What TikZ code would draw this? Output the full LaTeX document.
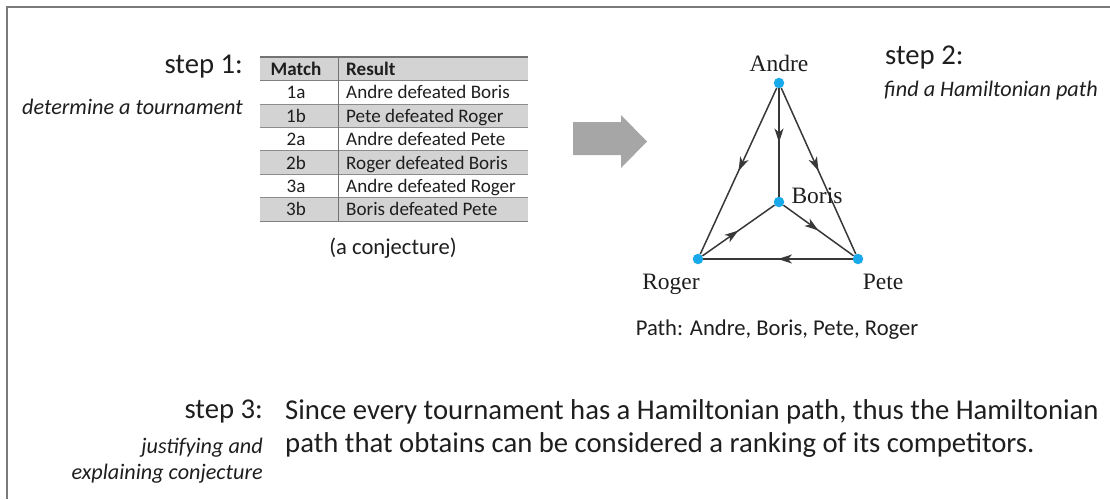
\documentclass[tikz,border=0pt]{standalone}
\usepackage{fontspec}
\setmainfont{Carlito}
\newfontfamily\timesfont{Liberation Serif}
\usetikzlibrary{arrows.meta,decorations.markings}
\definecolor{dotblue}{HTML}{17A9EA}
\definecolor{rowgray}{HTML}{D3D3D3}
\definecolor{bigarrow}{HTML}{A6A6A6}
\definecolor{framegray}{HTML}{7A7A7A}
\definecolor{txt}{HTML}{1E1E1E}
\begin{document}
\begin{tikzpicture}[x=1pt,y=-1pt,
  steplbl/.style={font=\fontsize{28.7}{34}\selectfont, inner sep=0, text=txt},
  sublbl/.style={font=\fontsize{22.2}{26}\selectfont\itshape, inner sep=0, text=txt},
  cell/.style={font=\fontsize{19.1}{22}\selectfont, inner sep=0, text=txt},
  hcell/.style={cell, font=\fontsize{19.1}{22}\selectfont\bfseries},
  capt/.style={font=\fontsize{22.6}{26}\selectfont, inner sep=0, text=txt},
  body/.style={font=\fontsize{28.7}{34}\selectfont, inner sep=0, text=txt},
  vtx/.style={circle, fill=dotblue, minimum size=10.5pt, inner sep=0},
  vname/.style={font=\timesfont\fontsize{23.5}{28}\selectfont, inner sep=0, anchor=base, text=txt},
  tedge/.style={draw=black!78, line width=1.5pt, postaction=decorate,
    decoration={markings, mark=at position 0.5 with {\arrow{Stealth[length=14pt,width=9pt,inset=4pt]}}}}
]
\useasboundingbox (0,0) rectangle (1110,499);
% frame (top and left edges visible)
\draw[framegray, line width=1.6pt] (7,499) -- (7,7) -- (1110,7);

% ---------- step 1 ----------
\node[steplbl, anchor=base east] (s1) at (243,73) {step 1:};
\node[sublbl, anchor=base east] (s1t) at (243,114) {determine a tournament};

% table
\fill[rowgray] (260,57) rectangle (528,80.7);
\foreach \r in {1,3,5} {
  \fill[rowgray] (260,{80.7+\r*23.4}) rectangle (528,{80.7+(\r+1)*23.4});
}
\foreach \r in {1,...,5} {
  \draw[black!45, line width=1pt] (260,{80.7+\r*23.4}) -- (528,{80.7+\r*23.4});
}
\draw[black!55, line width=2pt] (260,57) -- (528,57);
\draw[black!50, line width=1.2pt] (260,80.7) -- (528,80.7);
\draw[black!50, line width=1.2pt] (260,221.1) -- (528,221.1);
\draw[black!55, line width=1pt] (338,57) -- (338,221.1);

\node[hcell, anchor=base] (hm) at (296,75) {Match};
\node[hcell, anchor=base west] (hr) at (346,75) {Result};
\foreach \i/\m/\res [count=\k from 0] in {
  1/1a/Andre defeated Boris,
  2/1b/Pete defeated Roger,
  3/2a/Andre defeated Pete,
  4/2b/Roger defeated Boris,
  5/3a/Andre defeated Roger,
  6/3b/Boris defeated Pete} {
  \node[cell, anchor=base] (m\i) at (296,{80.7+\k*23.4+18.2}) {\m};
  \node[cell, anchor=base west] (r\i) at (346,{80.7+\k*23.4+18.2}) {\res};
}
\node[capt, anchor=base] (conj) at (393,254) {(a conjecture)};

% big gray arrow
\fill[bigarrow] (573,122) -- (621,122) -- (621,115) -- (647,141.5) -- (621,168) -- (621,155) -- (573,155) -- cycle;

% ---------- step 2 : graph ----------
\node[vtx] (A) at (779,83) {};
\node[vtx] (B) at (779,202) {};
\node[vtx] (R) at (698,259) {};
\node[vtx] (P) at (858,259) {};
\draw[tedge] (A) -- (B);
\draw[tedge] (A) -- (R);
\draw[tedge] (A) -- (P);
\draw[tedge] (R) -- (B);
\draw[tedge] (B) -- (P);
\draw[tedge] (P) -- (R);
\node[vname] (An) at (779,71) {Andre};
\node[vname] (Bn) at (817,203) {Boris};
\node[vname] (Rn) at (671,289) {Roger};
\node[vname] (Pn) at (883,289) {Pete};

\node[steplbl, anchor=base west] (s2) at (885,64) {step 2:};
\node[sublbl, anchor=base west] (s2t) at (884,96) {find a Hamiltonian path};
\node[capt, anchor=base] (path) at (777,335) {Path: Andre, Boris, Pete, Roger};

% ---------- step 3 ----------
\node[steplbl, anchor=base east] (s3) at (263,418) {step 3:};
\node[sublbl, anchor=base east] (s3a) at (263,453) {justifying and};
\node[sublbl, anchor=base east] (s3b) at (263,479) {explaining conjecture};
\node[body, anchor=base west] (l1) at (285,419) {Since every tournament has a Hamiltonian path, thus the Hamiltonian};
\node[body, anchor=base west] (l2) at (285,452) {path that obtains can be considered a ranking of its competitors.};
\end{tikzpicture}
\end{document}
